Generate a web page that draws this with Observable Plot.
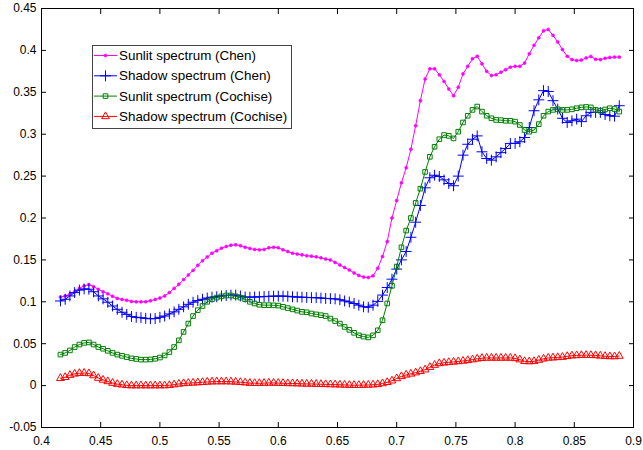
<!DOCTYPE html>
<html>
<head>
<meta charset="utf-8">
<script src="https://cdn.jsdelivr.net/npm/d3@7"></script>
<script src="https://cdn.jsdelivr.net/npm/@observablehq/plot@0.6"></script>
<style>
  body { margin: 0; background: #fff; }
  #wrap { position: relative; width: 643px; height: 450px; font-family: "Liberation Sans", Arial, sans-serif; }
  #legend { position: absolute; left: 91px; top: 44px; }
</style>
</head>
<body>
<div id="wrap"></div>
<script>
// ---- data ----
const wavelength = [
  0.416,0.420,0.424,0.428,0.432,0.436,0.440,0.444,0.448,0.452,
  0.456,0.460,0.464,0.468,0.472,0.476,0.480,0.484,0.488,0.492,
  0.496,0.500,0.504,0.508,0.512,0.516,0.520,0.524,0.528,0.532,
  0.536,0.540,0.544,0.548,0.552,0.556,0.560,0.564,0.568,0.572,
  0.576,0.580,0.584,0.588,0.592,0.596,0.600,0.604,0.608,0.612,
  0.616,0.620,0.624,0.628,0.632,0.636,0.640,0.644,0.648,0.652,
  0.656,0.660,0.664,0.668,0.672,0.676,0.680,0.684,0.688,0.692,
  0.696,0.700,0.704,0.708,0.712,0.716,0.720,0.724,0.728,0.732,
  0.736,0.740,0.744,0.748,0.752,0.756,0.760,0.764,0.768,0.772,
  0.776,0.780,0.784,0.788,0.792,0.796,0.800,0.804,0.808,0.812,
  0.816,0.820,0.824,0.828,0.832,0.836,0.840,0.844,0.848,0.852,
  0.856,0.860,0.864,0.868,0.872,0.876,0.880,0.884,0.888
];

const sunlitChen = [
  0.1057,0.107,0.109,0.112,0.116,0.119,0.1205,0.118,0.115,0.112,
  0.1095,0.1065,0.104,0.1028,0.1018,0.1005,0.100,0.100,0.100,0.1012,
  0.1028,0.1045,0.107,0.111,0.116,0.121,0.1265,0.132,0.1375,0.1435,
  0.149,0.1535,0.158,0.161,0.164,0.166,0.1675,0.168,0.167,0.165,
  0.1637,0.1625,0.162,0.1625,0.1645,0.165,0.1645,0.162,0.160,0.158,
  0.157,0.156,0.155,0.1545,0.1537,0.1525,0.151,0.150,0.147,0.144,
  0.141,0.138,0.1345,0.1315,0.1295,0.129,0.131,0.140,0.154,0.172,
  0.200,0.221,0.242,0.260,0.282,0.310,0.340,0.366,0.378,0.378,
  0.371,0.363,0.354,0.346,0.356,0.372,0.381,0.390,0.393,0.384,
  0.375,0.370,0.371,0.374,0.377,0.380,0.381,0.381,0.385,0.396,
  0.406,0.415,0.4235,0.425,0.418,0.410,0.401,0.393,0.389,0.388,
  0.3885,0.391,0.3928,0.3895,0.389,0.3905,0.3915,0.392,0.392
];

const shadowChen = [
  0.101,0.103,0.107,0.111,0.114,0.1153,0.115,0.112,0.107,0.1035,
  0.0995,0.095,0.091,0.0875,0.085,0.0825,0.0815,0.081,0.0803,0.0798,
  0.080,0.0815,0.083,0.0855,0.088,0.091,0.094,0.097,0.0995,0.1015,
  0.103,0.1045,0.1055,0.106,0.107,0.1075,0.108,0.108,0.107,0.1057,
  0.1055,0.1057,0.106,0.1062,0.1065,0.1067,0.1068,0.1068,0.1065,0.106,
  0.1057,0.1055,0.1052,0.105,0.1049,0.1045,0.104,0.1038,0.1035,0.1025,
  0.101,0.0998,0.098,0.096,0.094,0.0935,0.096,0.1005,0.108,0.117,
  0.127,0.139,0.150,0.160,0.177,0.195,0.215,0.236,0.248,0.251,
  0.2495,0.2455,0.2412,0.2385,0.250,0.275,0.288,0.294,0.298,0.279,
  0.271,0.269,0.273,0.278,0.283,0.289,0.289,0.291,0.296,0.308,
  0.328,0.341,0.352,0.351,0.340,0.330,0.319,0.314,0.316,0.318,
  0.315,0.322,0.326,0.326,0.326,0.3235,0.322,0.3215,0.334
];

const sunlitCochise = [
  0.037,0.039,0.042,0.046,0.049,0.051,0.0515,0.049,0.046,0.044,
  0.0415,0.039,0.037,0.0355,0.034,0.0325,0.0318,0.031,0.031,0.0312,
  0.032,0.0335,0.036,0.040,0.046,0.054,0.064,0.074,0.083,0.090,
  0.095,0.100,0.103,0.105,0.1065,0.1075,0.1075,0.1065,0.105,0.103,
  0.100,0.098,0.0965,0.096,0.096,0.0958,0.0955,0.094,0.0925,0.091,
  0.0895,0.088,0.0875,0.086,0.085,0.084,0.083,0.080,0.077,0.074,
  0.070,0.0665,0.063,0.060,0.0585,0.0575,0.060,0.066,0.078,0.098,
  0.119,0.142,0.165,0.185,0.200,0.218,0.235,0.255,0.273,0.285,
  0.294,0.299,0.298,0.295,0.303,0.314,0.322,0.329,0.333,0.327,
  0.322,0.319,0.317,0.3168,0.316,0.316,0.315,0.311,0.305,0.303,
  0.305,0.312,0.322,0.327,0.329,0.3297,0.329,0.329,0.3297,0.331,
  0.332,0.3325,0.332,0.329,0.328,0.3295,0.331,0.330,0.327
];

const shadowCochise = [
  0.0088,0.010,0.0125,0.014,0.0148,0.015,0.0145,0.012,0.009,0.0068,
  0.005,0.003,0.0018,0.001,0.0003,0,0,0,0,0,
  0,0,0,0.0004,0.0012,0.002,0.0026,0.003,0.0033,0.0036,
  0.004,0.0044,0.0047,0.0048,0.0048,0.0048,0.0047,0.0044,0.004,0.0035,
  0.003,0.0028,0.0028,0.003,0.0032,0.0032,0.003,0.0028,0.0026,0.0025,
  0.0024,0.0022,0.002,0.002,0.0018,0.0016,0.0015,0.0013,0.0012,0.001,
  0.0008,0.0006,0.0005,0.0005,0.0006,0.0008,0.001,0.0015,0.0025,0.004,
  0.0058,0.0085,0.011,0.0128,0.014,0.0155,0.0171,0.019,0.022,0.0245,
  0.0265,0.0272,0.0278,0.0283,0.0288,0.0294,0.0302,0.031,0.032,0.0327,
  0.033,0.033,0.033,0.033,0.033,0.033,0.0325,0.031,0.029,0.0287,
  0.029,0.0305,0.032,0.033,0.0333,0.0337,0.034,0.035,0.0357,0.036,
  0.0362,0.0363,0.0362,0.036,0.0355,0.035,0.0348,0.0347,0.0353
];

const seriesNames = ["Sunlit spectrum (Chen)", "Shadow spectrum (Chen)", "Sunlit spectrum (Cochise)", "Shadow spectrum (Cochise)"];
const seriesValues = [sunlitChen, shadowChen, sunlitCochise, shadowCochise];
const seriesColors = ["#ff00ff", "#0000ff", "#008000", "#ff0000"];
const seriesSymbols = ["circle", "plus", "square", "triangle"];

const xTicks = [0.4, 0.45, 0.5, 0.55, 0.6, 0.65, 0.7, 0.75, 0.8, 0.85, 0.9];
const xTickLabels = ["0.4","0.45","0.5","0.55","0.6","0.65","0.7","0.75","0.8","0.85","0.9"];
const yTicks = [-0.05, 0, 0.05, 0.1, 0.15, 0.2, 0.25, 0.3, 0.35, 0.4, 0.45];
const yTickLabels = ["-0.05","0","0.05","0.1","0.15","0.2","0.25","0.3","0.35","0.4","0.45"];

// ---- styles ----
const markerStyle = [
  {r: 1.5, fill: seriesColors[0], stroke: seriesColors[0], strokeWidth: 0.6},
  {r: 3.6, fill: "none", stroke: seriesColors[1], strokeWidth: 1},
  {r: 2.6, fill: "none", stroke: seriesColors[2], strokeWidth: 1},
  {r: 2.9, fill: "none", stroke: seriesColors[3], strokeWidth: 1}
];

const marks = [];
seriesNames.forEach((name, k) => {
  const data = wavelength.map((w, i) => ({x: w, y: seriesValues[k][i]}));
  marks.push(Plot.line(data, {x: "x", y: "y", stroke: seriesColors[k], strokeWidth: 1}));
  marks.push(Plot.dot(data, {x: "x", y: "y", symbol: seriesSymbols[k], ...markerStyle[k]}));
});

const xi = v => xTicks.indexOf(v);
const yi = v => yTicks.indexOf(v);
const TL = 5; // inward tick length (px)

const chart = Plot.plot({
  width: 643,
  height: 450,
  marginLeft: 41,
  marginRight: 10,
  marginTop: 8,
  marginBottom: 23,
  style: {fontFamily: '"Liberation Sans", Arial, sans-serif', fontSize: "12px", color: "#000", background: "#fff"},
  x: {domain: [0.4, 0.9]},
  y: {domain: [-0.05, 0.45]},
  marks: [
    ...marks,
    Plot.frame({stroke: "#000"}),
    // labels
    Plot.axisX(xTicks, {anchor: "bottom", tickSize: 0, tickPadding: 9, tickFormat: d => xTickLabels[xi(d)], label: null}),
    Plot.axisY(yTicks, {anchor: "left", tickSize: 0, tickPadding: 5, tickFormat: d => yTickLabels[yi(d)], label: null}),
    // inward ticks on all four sides
    Plot.axisX(xTicks, {anchor: "bottom", tickSize: TL, dy: -TL, tickFormat: () => "", label: null}),
    Plot.axisX(xTicks, {anchor: "top", tickSize: TL, dy: TL, tickFormat: () => "", label: null}),
    Plot.axisY(yTicks, {anchor: "left", tickSize: TL, dx: TL, tickFormat: () => "", label: null}),
    Plot.axisY(yTicks, {anchor: "right", tickSize: TL, dx: -TL, tickFormat: () => "", label: null})
  ]
});

const wrap = document.getElementById("wrap");
wrap.appendChild(chart);

// ---- legend ----
const lg = d3.create("svg").attr("id", "legend").attr("width", 203).attr("height", 87);
lg.append("rect").attr("x", 1.5).attr("y", 1.5).attr("width", 199).attr("height", 83)
  .attr("fill", "#fff").attr("stroke", "#444").attr("stroke-width", 1);
const symMap = {circle: d3.symbolCircle, plus: d3.symbolPlus, square: d3.symbolSquare, triangle: d3.symbolTriangle};
seriesNames.forEach((name, k) => {
  const cy = 11.5 + k * 20.3;
  const g = lg.append("g");
  g.append("line").attr("x1", 3).attr("x2", 26).attr("y1", cy).attr("y2", cy)
    .attr("stroke", seriesColors[k]).attr("stroke-width", 1);
  const ms = markerStyle[k];
  g.append("path")
    .attr("d", d3.symbol(symMap[seriesSymbols[k]], Math.PI * ms.r * ms.r)())
    .attr("transform", `translate(14.5,${cy})`)
    .attr("fill", ms.fill).attr("stroke", ms.stroke).attr("stroke-width", ms.strokeWidth);
  g.append("text").attr("x", 28).attr("y", cy).attr("dy", "0.35em")
    .attr("font-family", '"Liberation Sans", Arial, sans-serif').attr("font-size", "13.4px")
    .attr("fill", "#000").text(name);
});
wrap.appendChild(lg.node());
</script>
</body>
</html>
